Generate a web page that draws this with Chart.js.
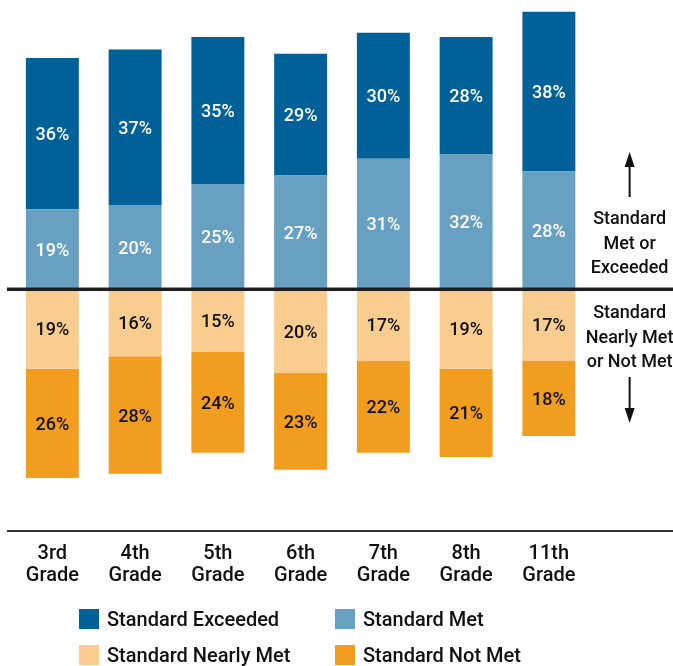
<!DOCTYPE html>
<html><head><meta charset="utf-8">
<script src="https://cdn.jsdelivr.net/npm/chart.js@4.4.1/dist/chart.umd.min.js"></script>
<style>
html,body{margin:0;padding:0;background:#fff;}
#wrap{position:relative;width:673px;height:666px;overflow:hidden;}
#c{position:absolute;left:0;top:0;}
#legend{position:absolute;left:0;top:0;width:673px;height:666px;font-family:Roboto, sans-serif;font-weight:500;font-size:20px;color:#111;}
.item{position:absolute;height:20px;display:flex;align-items:center;white-space:nowrap;}
.sw{width:20px;height:20px;margin-right:8px;flex:none;}
</style></head>
<body><div id="wrap"><canvas id="c" width="673" height="599"></canvas><div id="legend"></div></div>
<script>
const grades = [["3rd","Grade"],["4th","Grade"],["5th","Grade"],["6th","Grade"],["7th","Grade"],["8th","Grade"],["11th","Grade"],""];
const exceeded = [36,37,35,29,30,28,38];
const met = [19,20,25,27,31,32,28];
const nearlyMet = [19,16,15,20,17,19,17];
const notMet = [26,28,24,23,22,21,18];
const seriesNames = ["Standard Exceeded","Standard Met","Standard Nearly Met","Standard Not Met"];
const seriesColors = ["#006199","#67a0c1","#f8cd8f","#f19d1f"];
const sideNoteUp = ["Standard","Met or","Exceeded"];
const sideNoteDown = ["Standard","Nearly Met","or Not Met"];

const FONT = 'Roboto, sans-serif';
Chart.defaults.font.family = FONT;

const overlay = {
  id: 'overlay',
  afterDatasetsDraw(chart) {
    const ctx = chart.ctx, ys = chart.scales.y, xs = chart.scales.x, area = chart.chartArea;
    ctx.save();
    ctx.textAlign = 'center';
    ctx.textBaseline = 'middle';
    ctx.font = '500 18px ' + FONT;
    chart.data.datasets.forEach((ds, i) => {
      const meta = chart.getDatasetMeta(i);
      meta.data.forEach((bar, j) => {
        const v = ds.data[j];
        if (v == null) return;
        const p = bar.getProps(['x', 'y', 'base'], true);
        ctx.fillStyle = ds.labelColor;
        ctx.fillText(Math.abs(v) + '%', p.x, (p.y + p.base) / 2 + 2);
      });
    });
    // zero line
    const y0 = ys.getPixelForValue(0);
    ctx.fillStyle = '#1e1e1e';
    ctx.fillRect(7, y0 - 1.5, chart.width - 7, 3.5);
    // bottom axis line
    ctx.fillStyle = '#333';
    ctx.fillRect(7, area.bottom - 1, chart.width - 7, 2);
    // side notes
    const cx = xs.getPixelForValue(7) - 2;
    ctx.fillStyle = '#111';
    ctx.font = '500 18px ' + FONT;
    const upY = [y0 - 70, y0 - 45, y0 - 21];
    sideNoteUp.forEach((t, k) => ctx.fillText(t, cx, upY[k]));
    const dnY = [y0 + 24, y0 + 49, y0 + 73];
    sideNoteDown.forEach((t, k) => ctx.fillText(t, cx, dnY[k]));
    // arrows
    ctx.strokeStyle = '#111';
    ctx.lineWidth = 2;
    ctx.beginPath(); ctx.moveTo(cx, y0 - 92); ctx.lineTo(cx, y0 - 125); ctx.stroke();
    ctx.beginPath(); ctx.moveTo(cx, y0 - 137); ctx.lineTo(cx - 5, y0 - 122); ctx.lineTo(cx + 5, y0 - 122); ctx.closePath(); ctx.fill();
    ctx.beginPath(); ctx.moveTo(cx, y0 + 88); ctx.lineTo(cx, y0 + 121); ctx.stroke();
    ctx.beginPath(); ctx.moveTo(cx, y0 + 134); ctx.lineTo(cx - 5, y0 + 119); ctx.lineTo(cx + 5, y0 + 119); ctx.closePath(); ctx.fill();
    ctx.restore();
  }
};

const chart = new Chart(document.getElementById('c'), {
  type: 'bar',
  data: {
    labels: grades,
    datasets: [
      { label: seriesNames[1], data: met, backgroundColor: seriesColors[1], labelColor: '#fff' },
      { label: seriesNames[0], data: exceeded, backgroundColor: seriesColors[0], labelColor: '#fff' },
      { label: seriesNames[2], data: nearlyMet.map(v => -v), backgroundColor: seriesColors[2], labelColor: '#111' },
      { label: seriesNames[3], data: notMet.map(v => -v), backgroundColor: seriesColors[3], labelColor: '#111' }
    ]
  },
  options: {
    responsive: false,
    animation: false,
    barPercentage: 0.64,
    categoryPercentage: 1,
    layout: { padding: { left: 11, right: -3, top: 0, bottom: 0 } },
    plugins: { legend: { display: false }, tooltip: { enabled: false } },
    scales: {
      x: {
        stacked: true,
        grid: { display: false, drawTicks: false },
        border: { display: false },
        afterFit(scale) { scale.height = 68; },
        ticks: { color: '#111', font: { size: 20, weight: 500, lineHeight: 1.1 }, padding: 12, maxRotation: 0, autoSkip: false }
      },
      y: {
        stacked: true,
        display: false,
        min: -57.6,
        max: 68.8
      }
    }
  },
  plugins: [overlay]
});

// HTML legend (2 x 2)
const legendOrder = [0, 1, 2, 3];
const legendPos = [[79, 609], [335, 609], [79, 645], [335, 645]];
const lg = document.getElementById('legend');
legendOrder.forEach((s, k) => {
  const d = document.createElement('div');
  d.className = 'item';
  d.style.left = legendPos[k][0] + 'px';
  d.style.top = legendPos[k][1] + 'px';
  const sw = document.createElement('span');
  sw.className = 'sw';
  sw.style.background = seriesColors[s];
  const tx = document.createElement('span');
  tx.textContent = seriesNames[s];
  d.appendChild(sw); d.appendChild(tx);
  lg.appendChild(d);
});
</script>
</body></html>
